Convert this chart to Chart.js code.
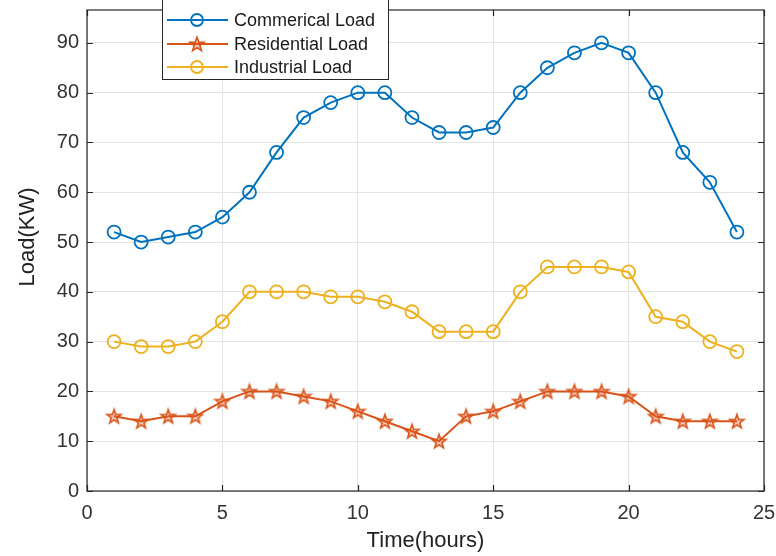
<!DOCTYPE html>
<html><head><meta charset="utf-8">
<script src="https://cdn.jsdelivr.net/npm/chart.js@4"></script>
<style>html,body{margin:0;padding:0;background:#fff}#wrap{width:776px;height:556px}</style>
</head><body><div id="wrap"><canvas id="c" width="776" height="556"></canvas></div>
<script>
const hours = [1,2,3,4,5,6,7,8,9,10,11,12,13,14,15,16,17,18,19,20,21,22,23,24];
const commercial = [52,50,51,52,55,60,68,75,78,80,80,75,72,72,73,80,85,88,90,88,80,68,62,52];
const residential = [15,14,15,15,18,20,20,19,18,16,14,12,10,15,16,18,20,20,20,19,15,14,14,14];
const industrial = [30,29,29,30,34,40,40,40,39,39,38,36,32,32,32,40,45,45,45,44,35,34,30,28];
const seriesNames = ['Commerical Load','Residential Load','Industrial Load'];
const xTicks = [0,5,10,15,20,25];
const yTicks = [0,10,20,30,40,50,60,70,80,90];
const yTitle = 'Load(KW)';

const BLUE='#0072BD', ORANGE='#D95319', YELLOW='#EDB120';
const FONT='Arial, "Liberation Sans", Helvetica, sans-serif';

function makeStar(color){
  const s=18, c=document.createElement('canvas'); c.width=s; c.height=s;
  const g=c.getContext('2d'); g.strokeStyle=color; g.lineWidth=1.6; g.lineJoin='miter';
  const R=7.4, r=3.0, cx=s/2, cy=s/2+0.6;
  g.beginPath();
  for(let i=0;i<10;i++){const a=-Math.PI/2+i*Math.PI/5; const rr=i%2?r:R; const x=cx+rr*Math.cos(a), y=cy+rr*Math.sin(a); i?g.lineTo(x,y):g.moveTo(x,y);}
  g.closePath(); g.fillStyle='rgba(217,83,25,0.35)'; g.fill(); g.stroke();
  return c;
}
const starImg = makeStar(ORANGE);

const toXY = arr => arr.map((v,i)=>({x:hours[i], y:v}));

const axesPlugin = {
  id:'matlabAxes',
  afterDraw(chart){
    const ctx=chart.ctx, a=chart.chartArea, xs=chart.scales.x, ys=chart.scales.y;
    ctx.save();
    ctx.strokeStyle='#262626'; ctx.lineWidth=1.2;
    ctx.strokeRect(a.left, a.top, a.right-a.left, a.bottom-a.top);
    const tl=6;
    ctx.beginPath();
    xTicks.forEach(v=>{const p=Math.round(xs.getPixelForValue(v))+0.5;
      ctx.moveTo(p,a.bottom); ctx.lineTo(p,a.bottom-tl);
      ctx.moveTo(p,a.top); ctx.lineTo(p,a.top+tl);});
    yTicks.forEach(v=>{const p=Math.round(ys.getPixelForValue(v))+0.5;
      ctx.moveTo(a.left,p); ctx.lineTo(a.left+tl,p);
      ctx.moveTo(a.right,p); ctx.lineTo(a.right-tl,p);});
    ctx.stroke();
    // y title
    ctx.save();
    ctx.translate(28, 237); ctx.rotate(-Math.PI/2);
    ctx.fillStyle='#222'; ctx.font='22px '+FONT; ctx.textAlign='center'; ctx.textBaseline='middle';
    ctx.fillText(yTitle, 0, 0);
    ctx.restore();
    // legend
    const lx=162, ly=-2, lw=226, lh=81;
    ctx.fillStyle='#fff'; ctx.fillRect(lx,ly,lw,lh);
    ctx.strokeStyle='#262626'; ctx.lineWidth=1; ctx.strokeRect(lx+0.5,ly+0.5,lw,lh);
    const rows=[20,44,67];
    chart.data.datasets.forEach((ds,i)=>{
      const y=rows[i];
      ctx.strokeStyle=ds.borderColor; ctx.lineWidth=2;
      ctx.beginPath(); ctx.moveTo(167,y); ctx.lineTo(228,y); ctx.stroke();
      const mx=197;
      if(ds.pointStyle==='circle'){
        ctx.lineWidth=1.8; ctx.beginPath(); ctx.arc(mx,y,6,0,Math.PI*2); ctx.stroke();
      } else {
        ctx.drawImage(starImg, mx-9, y-9);
      }
      ctx.fillStyle='#1a1a1a'; ctx.font='18px '+FONT; ctx.textBaseline='middle'; ctx.textAlign='left';
      ctx.fillText(ds.label, 234, y+1);
    });
    ctx.restore();
  }
};

new Chart(document.getElementById('c'), {
  type:'line',
  data:{ datasets:[
    {label:seriesNames[0], data:toXY(commercial), borderColor:BLUE, backgroundColor:'transparent', borderWidth:2,
      pointStyle:'circle', pointRadius:6.5, pointBorderWidth:1.8, pointBackgroundColor:'rgba(0,0,0,0)', pointBorderColor:BLUE},
    {label:seriesNames[1], data:toXY(residential), borderColor:ORANGE, backgroundColor:'transparent', borderWidth:2,
      pointStyle:starImg, pointRadius:8},
    {label:seriesNames[2], data:toXY(industrial), borderColor:YELLOW, backgroundColor:'transparent', borderWidth:2,
      pointStyle:'circle', pointRadius:6.5, pointBorderWidth:1.8, pointBackgroundColor:'rgba(0,0,0,0)', pointBorderColor:YELLOW}
  ]},
  options:{
    responsive:false, animation:false, devicePixelRatio:1,
    layout:{padding:{top:8,right:12,left:0,bottom:0}},
    plugins:{legend:{display:false}, tooltip:{enabled:false}},
    elements:{line:{tension:0}},
    scales:{
      x:{type:'linear', min:0, max:25,
        afterBuildTicks(s){s.ticks=xTicks.map(v=>({value:v}));},
        afterFit(s){s.height=65; s.paddingLeft=0; s.paddingRight=0;},
        grid:{color:'#e3e3e3', lineWidth:1, drawTicks:false},
        border:{display:false},
        ticks:{color:'#333', font:{size:20, family:FONT}, padding:10, maxRotation:0},
        title:{display:true, text:'Time(hours)', color:'#222', font:{size:22, family:FONT}, padding:{top:0,bottom:2}}
      },
      y:{type:'linear', min:0, max:96.6,
        afterBuildTicks(s){s.ticks=yTicks.map(v=>({value:v}));},
        afterFit(s){s.width=87; s.paddingTop=0; s.paddingBottom=0;},
        grid:{color:'#e3e3e3', lineWidth:1, drawTicks:false},
        border:{display:false},
        ticks:{color:'#333', font:{size:20, family:FONT}, padding:8},
        title:{display:false}
      }
    }
  },
  plugins:[axesPlugin]
});
</script></body></html>
